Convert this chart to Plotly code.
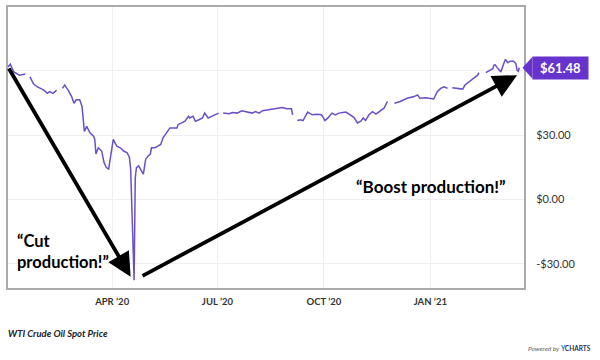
import plotly.graph_objects as go

# ---- data ----
dates = [
    "2020-01-02", "2020-01-04", "2020-01-07", "2020-01-10", "2020-01-12", "2020-01-17", "2020-01-20",
    "2020-01-21", "2020-01-24", "2020-01-27", "2020-01-30", "2020-02-02", "2020-02-05", "2020-02-07",
    "2020-02-10", "2020-02-13", "2020-02-16", "2020-02-18", "2020-02-20", "2020-02-23", "2020-02-26",
    "2020-02-28", "2020-03-01", "2020-03-04", "2020-03-06", "2020-03-08", "2020-03-10", "2020-03-13",
    "2020-03-16", "2020-03-17", "2020-03-18", "2020-03-20", "2020-03-23", "2020-03-25", "2020-03-27",
    "2020-03-29", "2020-03-31", "2020-04-02", "2020-04-05", "2020-04-08", "2020-04-11", "2020-04-14",
    "2020-04-16", "2020-04-17", "2020-04-20", "2020-04-21", "2020-04-22", "2020-04-24", "2020-04-27",
    "2020-04-28", "2020-04-30", "2020-05-02", "2020-05-04", "2020-05-05", "2020-05-08", "2020-05-11",
    "2020-05-13", "2020-05-15", "2020-05-18", "2020-05-21", "2020-05-24", "2020-05-27", "2020-05-28",
    "2020-05-31", "2020-06-03", "2020-06-06", "2020-06-07", "2020-06-10", "2020-06-12", "2020-06-15",
    "2020-06-18", "2020-06-20", "2020-06-23", "2020-06-26", "2020-06-29", "2020-07-02", "2020-07-03",
    "2020-07-06", "2020-07-11", "2020-07-14", "2020-07-18", "2020-07-22", "2020-07-27", "2020-07-31",
    "2020-08-03", "2020-08-06", "2020-08-09", "2020-08-14", "2020-08-20", "2020-08-26", "2020-08-30",
    "2020-09-03", "2020-09-04", "2020-09-07", "2020-09-08", "2020-09-11", "2020-09-13", "2020-09-17",
    "2020-09-21", "2020-09-25", "2020-09-29", "2020-10-02", "2020-10-05", "2020-10-08", "2020-10-11",
    "2020-10-14", "2020-10-20", "2020-10-24", "2020-10-27", "2020-10-30", "2020-11-02", "2020-11-04",
    "2020-11-06", "2020-11-09", "2020-11-12", "2020-11-15", "2020-11-19", "2020-11-22", "2020-11-25",
    "2020-11-26", "2020-12-01", "2020-12-06", "2020-12-12", "2020-12-18", "2020-12-21", "2020-12-23",
    "2020-12-28", "2020-12-31", "2021-01-04", "2021-01-07", "2021-01-10", "2021-01-13", "2021-01-16",
    "2021-01-18", "2021-01-20", "2021-01-24", "2021-01-29", "2021-01-31", "2021-02-05", "2021-02-09",
    "2021-02-11", "2021-02-12", "2021-02-15", "2021-02-18", "2021-02-21", "2021-02-24", "2021-02-25",
    "2021-02-26", "2021-02-28", "2021-03-03", "2021-03-06", "2021-03-07", "2021-03-09", "2021-03-11",
    "2021-03-14", "2021-03-16", "2021-03-17", "2021-03-18", "2021-03-19",
]
prices = [
    61.8, 63.1, 59.5, 58.5, 58.0, 58.5, None,
    57.2, 54.0, 52.6, 51.8, 51.0, 49.5, 50.3,
    49.5, 51.0, None, 51.8, 53.4, 51.0, 48.0,
    44.9, 46.5, 46.5, 43.4, 31.8, 34.1, 31.0,
    29.5, 28.0, 21.2, 24.1, 22.6, 17.2, 14.9,
    14.2, 20.3, 28.0, 24.9, 24.1, 22.6, 21.8,
    19.5, 14.3, -37.63, 10.0, 14.9, 15.7, 12.6,
    11.8, 18.8, 20.3, 21.1, 24.1, 24.1, 24.9,
    25.7, 28.8, 31.0, 33.4, 33.4, 33.4, 34.9,
    35.7, 36.5, 38.8, 38.0, 38.8, 36.5, 37.2,
    38.0, 40.3, 38.0, 38.8, 39.5, 40.3, None,
    40.3, 40.0, 40.6, 40.3, 41.4, 40.6, 40.3,
    41.0, 40.3, 41.4, 41.9, 42.3, 42.9, 42.3,
    42.3, 39.5, None, 36.8, 37.2, 36.8, 40.8,
    39.5, 39.8, 39.5, 36.8, 38.3, 40.3, 39.5,
    40.3, 40.8, 39.2, 38.3, 35.7, 36.5, 38.0,
    36.8, 39.5, 41.0, 39.8, 41.4, 42.6, 45.7,
    None, 44.9, 45.7, 47.2, 48.0, 48.8, 47.2,
    47.5, 47.2, 46.9, 50.3, 51.8, 52.6, 51.8,
    None, 52.1, 51.8, 51.5, 53.4, 55.7, 57.2,
    58.0, 59.2, None, 59.2, 60.3, 61.0, 62.6,
    62.9, 61.4, 59.5, 64.1, 65.4, 63.8, 64.5,
    64.5, 63.4, 60.3, 59.8, 61.48,
]
tick_dates = ["2020-04-01", "2020-07-01", "2020-10-01", "2021-01-01"]
tick_labels = ["APR \u201920", "JUL \u201920", "OCT \u201920", "JAN \u201921"]
y_ticks = [-30, 0, 30, 60]
y_labels = ["-$30.00", "$0.00", "$30.00", ""]

x_range = ["2020-01-02", "2021-03-23"]
y_range = [-41.3, 89.8]

LINE = "#6b4fc8"
BADGE = "#6633cc"

# arrow endpoints (data space)
cut_tail = (dates[0], prices[0])
cut_head = ("2020-04-17", -36)
boost_tail = ("2020-04-26", -36)
boost_head = ("2021-03-17", 58)
last_price = [p for p in prices if p is not None][-1]

fig = go.Figure()
fig.add_trace(go.Scatter(
    x=dates, y=prices, mode="lines", connectgaps=False,
    line=dict(color=LINE, width=1.5), hoverinfo="skip", showlegend=False,
))

ann = []
# arrows
for (tx, ty), (hx, hy) in [(cut_tail, cut_head), (boost_tail, boost_head)]:
    ann.append(dict(x=hx, y=hy, ax=tx, ay=ty, xref="x", yref="y", axref="x", ayref="y",
                    text="", showarrow=True, arrowhead=2, arrowsize=1.25, arrowwidth=3.8,
                    arrowcolor="black", standoff=0))
# captions
ann.append(dict(x="2020-01-08", y=-24.5, xref="x", yref="y", xanchor="left", yanchor="middle",
                align="left", showarrow=False,
                text="\u201cCut<br>production!\u201d",
                font=dict(family="Lato", size=16.5, color="black", weight="bold")))
ann.append(dict(x="2021-01-02", y=6.0, xref="x", yref="y", xanchor="center", yanchor="middle",
                showarrow=False, text="\u201cBoost production!\u201d",
                font=dict(family="Lato", size=17, color="black", weight="bold")))
# price badge
ann.append(dict(x=1, y=last_price, xref="paper", yref="y", xanchor="left", yanchor="middle",
                xshift=8, showarrow=False, text="<b>$" + f"{last_price:.2f}" + "</b>",
                bgcolor=BADGE, width=55, height=22, borderpad=0,
                font=dict(family="Lato", size=13, color="white")))
# footer
ann.append(dict(x=0, y=0, xref="paper", yref="paper", xanchor="left", yanchor="middle",
                xshift=-2, yshift=-45, showarrow=False, text="<b><i>WTI Crude Oil Spot Price</i></b>",
                font=dict(family="Lato", size=9.5, color="#222222")))
ann.append(dict(x=1, y=0, xref="paper", yref="paper", xanchor="right", yanchor="middle",
                xshift=69, yshift=-60, showarrow=False,
                text="<i><span style='color:#666666'>Powered by</span></i> <b><span style='color:#1a73e8'>Y</span><span style='color:#2b2f4a'>CHARTS</span></b>",
                font=dict(family="Lato", size=6.5, color="#333333")))

badge_y = (last_price - y_range[0]) / (y_range[1] - y_range[0])
shapes = [dict(type="path", xref="paper", yref="paper", xsizemode="pixel", ysizemode="pixel",
               xanchor=1, yanchor=badge_y, path="M -1.5,0 L 8.5,11 L 8.5,-11 Z",
               fillcolor=BADGE, line=dict(width=0))]

fig.update_layout(
    width=600, height=360,
    margin=dict(l=8, r=76, t=5, b=72),
    paper_bgcolor="white", plot_bgcolor="white",
    annotations=ann, shapes=shapes,
    xaxis=dict(type="date", range=x_range, tickvals=tick_dates, ticktext=tick_labels,
               showgrid=True, gridcolor="#efefef", gridwidth=1, zeroline=False,
               showline=True, mirror=True, linecolor="#aaaaaa", linewidth=2,
               ticks="", ticklabelstandoff=4,
               tickfont=dict(family="Lato", size=9.5, color="#333333", weight="bold")),
    yaxis=dict(range=y_range, side="right", tickvals=y_ticks, ticktext=y_labels,
               showgrid=True, gridcolor="#efefef", gridwidth=1, zeroline=False,
               showline=True, mirror=True, linecolor="#aaaaaa", linewidth=2,
               ticks="", ticklabelstandoff=8,
               tickfont=dict(family="Lato", size=11, color="#333333")),
)
fig.write_html("out.html", config={"displayModeBar": False},
               post_script="document.body.style.margin='0';")
